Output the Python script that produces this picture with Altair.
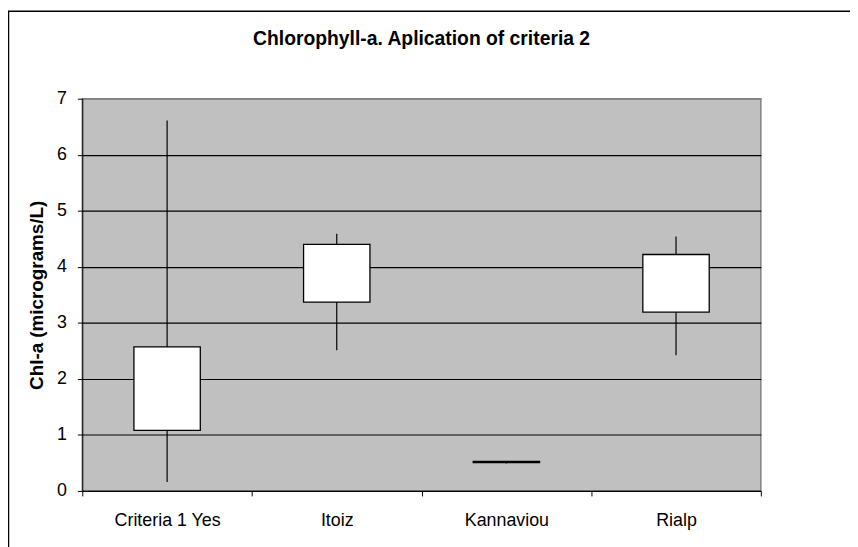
import altair as alt
import pandas as pd

categories = ["Criteria 1 Yes", "Itoiz", "Kannaviou", "Rialp"]
whisker_low = [0.16, 2.51, 0.49, 2.42]
box_q1 = [1.08, 3.37, 0.505, 3.19]
box_q3 = [2.57, 4.40, 0.53, 4.22]
whisker_high = [6.61, 4.59, 0.53, 4.54]
y_ticks = [0, 1, 2, 3, 4, 5, 6, 7]

df = pd.DataFrame({
    "cat": categories,
    "lo": whisker_low,
    "q1": box_q1,
    "q3": box_q3,
    "hi": whisker_high,
})

FONT = "Liberation Sans"

x_enc = alt.X(
    "cat:N",
    sort=categories,
    scale=alt.Scale(paddingInner=0, paddingOuter=0),
    axis=alt.Axis(
        title=None, labelAngle=0, tickBand="extent", tickColor="black",
        tickSize=5, labelFontSize=18, labelFont=FONT, labelColor="black",
        labelPadding=16, domainColor="black", grid=False,
    ),
)

y_scale = alt.Scale(domain=[0, 7], nice=False, zero=True)

whiskers = alt.Chart(df).mark_rule(color="black", strokeWidth=1.2).encode(
    x=x_enc,
    y=alt.Y("lo:Q", scale=y_scale, axis=alt.Axis(
        title="Chl-a (micrograms/L)", values=y_ticks, format="d", grid=True,
        gridColor=alt.condition("datum.value == 7", alt.value("#808080"), alt.value("black")),
        gridWidth=1.2,
        tickColor="black", tickSize=5, labelFontSize=18, labelFont=FONT,
        labelColor="black", labelPadding=11, domainColor="black",
        titleFont=FONT, titleFontSize=19, titleFontWeight="bold",
        titleColor="black", titleX=-46, titleY=198, titleAngle=270,
        titleAlign="center", titleBaseline="middle",
    )),
    y2="hi:Q",
)

boxes = alt.Chart(df).mark_bar(
    size=67, fill="white", stroke="black", strokeWidth=1.3
).encode(
    x=alt.X("cat:N", sort=categories),
    y=alt.Y("q1:Q", scale=y_scale),
    y2="q3:Q",
)

frame = alt.Chart(pd.DataFrame({"a": [0]})).mark_rect(
    fill=None, stroke="black", strokeWidth=1.5, clip=False
).encode(
    x=alt.value(-74.5), x2=alt.value(900),
    y=alt.value(-88.2), y2=alt.value(600),
)

chart = alt.layer(whiskers, boxes, frame).properties(
    width=685,
    height=396,
    padding={"left": 75, "top": 89, "right": 90, "bottom": 54},
    autosize=alt.AutoSizeParams(type="none"),
    background="white",
    title=alt.TitleParams(
        "Chlorophyll-a. Aplication of criteria 2",
        font=FONT, fontSize=19.5, fontWeight="bold", color="black",
        anchor="middle", frame="group", offset=0, dy=39,
    ),
).configure_view(
    fill="#C0C0C0", stroke="#808080", strokeWidth=1.5
)

chart.save("out.html", embed_options={"renderer": "svg", "actions": False})
